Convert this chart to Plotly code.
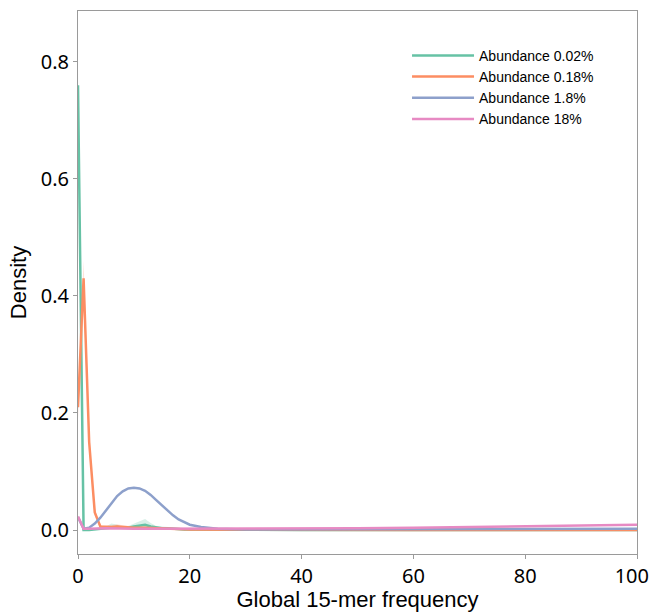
import plotly.graph_objects as go

# ---- data ----
labels = ["Abundance 0.02%", "Abundance 0.18%", "Abundance 1.8%", "Abundance 18%"]
colors = ["#66c2a5", "#fc8d62", "#8da0cb", "#e78ac3"]

x_green = [0, 1, 2, 3, 4, 5, 6, 7, 8, 9, 10, 11, 12, 13, 14, 15, 16, 17, 18, 19, 20, 25, 30, 40, 50, 60, 70, 80, 90, 100]
y_green = [0.76, 0.0, 0.0, 0.001, 0.002, 0.003, 0.005, 0.005, 0.004, 0.004, 0.006, 0.008, 0.009, 0.006, 0.004, 0.003, 0.003, 0.002, 0.002, 0.001, 0.001, 0.0005, 0.0, 0.0, 0.0, 0.0, 0.0, 0.0, 0.0, 0.0]
lo_green = [0.74, 0.0, 0.0, 0.0, 0.001, 0.002, 0.002, 0.003, 0.002, 0.002, 0.003, 0.004, 0.004, 0.003, 0.002, 0.002, 0.001, 0.001, 0.001, 0.0, 0.0, 0.0, 0.0, 0.0, 0.0, 0.0, 0.0, 0.0, 0.0, 0.0]
hi_green = [0.78, 0.0, 0.001, 0.002, 0.004, 0.006, 0.011, 0.009, 0.006, 0.007, 0.011, 0.016, 0.019, 0.012, 0.007, 0.006, 0.005, 0.004, 0.003, 0.002, 0.002, 0.001, 0.0, 0.0, 0.0, 0.0, 0.0, 0.0, 0.0, 0.0]

x_orange = [0, 1, 2, 3, 4, 5, 6, 7, 8, 10, 12, 15, 20, 30, 40, 50, 60, 70, 80, 90, 100]
y_orange = [0.21, 0.43, 0.15, 0.03, 0.006, 0.005, 0.005, 0.006, 0.005, 0.004, 0.004, 0.003, 0.001, 0.0005, 0.0, 0.0, 0.0, 0.0, 0.0, 0.0, 0.0]
lo_orange = [0.19, 0.41, 0.14, 0.025, 0.004, 0.003, 0.003, 0.003, 0.003, 0.002, 0.002, 0.002, 0.0005, 0.0, 0.0, 0.0, 0.0, 0.0, 0.0, 0.0, 0.0]
hi_orange = [0.23, 0.46, 0.16, 0.035, 0.008, 0.007, 0.008, 0.01, 0.008, 0.006, 0.006, 0.004, 0.002, 0.001, 0.0, 0.0, 0.0, 0.0, 0.0, 0.0, 0.0]

x_blue = [0, 1, 2, 3, 4, 5, 6, 7, 8, 9, 10, 11, 12, 13, 14, 15, 16, 17, 18, 19, 20, 22, 25, 30, 40, 50, 60, 70, 80, 90, 100]
y_blue = [0.022, 0.002, 0.004, 0.011, 0.021, 0.034, 0.047, 0.058, 0.066, 0.071, 0.072, 0.071, 0.067, 0.060, 0.051, 0.042, 0.033, 0.025, 0.018, 0.013, 0.009, 0.005, 0.002, 0.001, 0.001, 0.001, 0.001, 0.0015, 0.002, 0.002, 0.002]

x_pink = [0, 1, 2, 5, 10, 20, 30, 40, 50, 60, 70, 80, 90, 100]
y_pink = [0.023, 0.002, 0.002, 0.003, 0.002, 0.002, 0.002, 0.002, 0.003, 0.004, 0.005, 0.006, 0.007, 0.009]

y_ticks = [0.0, 0.2, 0.4, 0.6, 0.8]
x_ticks = [0, 20, 40, 60, 80, 100]
x_tick_labels = ["0", "20", "40", "60", "80", "100\u00a0\u00a0"]


def rgba(hex_color, a):
    h = hex_color.lstrip("#")
    r, g, b = int(h[0:2], 16), int(h[2:4], 16), int(h[4:6], 16)
    return f"rgba({r},{g},{b},{a})"


fig = go.Figure()

# confidence bands
for xs, lo, hi, c in [(x_green, lo_green, hi_green, colors[0]),
                      (x_orange, lo_orange, hi_orange, colors[1])]:
    fig.add_trace(go.Scatter(x=xs + xs[::-1], y=hi + lo[::-1], fill="toself",
                             fillcolor=rgba(c, 0.25), line=dict(width=0),
                             hoverinfo="skip", showlegend=False))

series = [(x_green, y_green), (x_orange, y_orange), (x_blue, y_blue), (x_pink, y_pink)]
for (xs, ys), name, c in zip(series, labels, colors):
    fig.add_trace(go.Scatter(x=xs, y=ys, mode="lines", name=name,
                             line=dict(color=c, width=2.5)))

axis_common = dict(showline=True, linecolor="#9a9a9a", linewidth=1, mirror=True,
                   showgrid=False, zeroline=False, ticks="outside", ticklen=4,
                   tickcolor="#9a9a9a", automargin=False, ticklabeloverflow="allow",
                   tickfont=dict(family="Noto Sans, Arial, sans-serif", size=20, color="black"))

fig.update_layout(
    width=652, height=612,
    margin=dict(l=78, r=15, t=11, b=58),
    paper_bgcolor="white", plot_bgcolor="white",
    xaxis=dict(range=[0, 100], tickvals=x_ticks, ticktext=x_tick_labels,
               title=dict(text="Global 15-mer frequency", standoff=2,
                          font=dict(family="Liberation Sans, Arial, sans-serif", size=22, color="black")),
               **axis_common),
    yaxis=dict(range=[-0.041, 0.887], tickvals=y_ticks, tickformat=".1f",
               title=dict(text="Density", standoff=8,
                          font=dict(family="Liberation Sans, Arial, sans-serif", size=22, color="black")),
               **axis_common),
    legend=dict(x=0.5886, y=0.947, xanchor="left", yanchor="top",
                bgcolor="rgba(0,0,0,0)", itemwidth=62,
                font=dict(family="Liberation Sans, Arial, sans-serif", size=14, color="black"),
                tracegroupgap=0),
    showlegend=True,
)

fig.write_html("out.html", config={"displayModeBar": False},
               post_script="document.body.style.margin='0';document.body.style.overflow='hidden';")
